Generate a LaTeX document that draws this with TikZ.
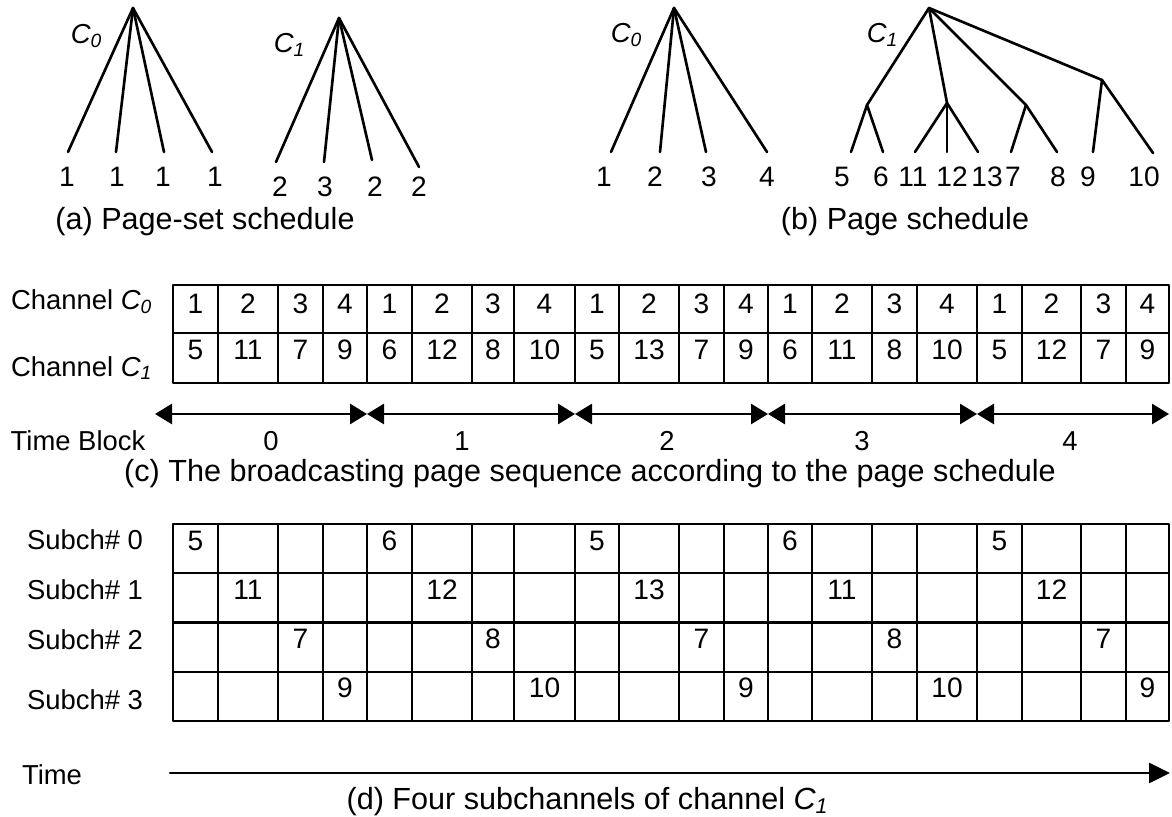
\documentclass[tikz,border=0pt]{standalone}
\usepackage{fontspec}
\setmainfont{Liberation Sans}
\usetikzlibrary{arrows.meta}
\newcommand{\chn}[1]{\textit{C\textsubscript{#1}}}

\begin{document}
\begin{tikzpicture}[
  x=1cm,y=1cm,
  line cap=round,line join=round,
  edge/.style={draw=black, line width=.75pt},
  grid/.style={draw=black, line width=.6pt},
  page/.style={font=\fontsize{8}{9.5}\selectfont, inner sep=0pt},
  lbl/.style={font=\fontsize{7.8}{9}\selectfont, inner sep=0pt},
  capt/.style={font=\fontsize{8.7}{10.4}\selectfont, inner sep=0pt},
  span/.style={draw=black, line width=.8pt,
    {Triangle[length=1.7mm,width=2mm]}-{Triangle[length=1.7mm,width=2mm]}}
]
\useasboundingbox (0,0) rectangle (11.72,8.17);

% (a) page-set schedule, C0 tree
\coordinate (a0) at (1.33,8.09);
\node[lbl] (a0name) at (0.87,7.81) {\chn{0}};
\foreach \x/\lx [count=\i] in {0.68/0.67,1.16/1.17,1.64/1.63,2.12/2.15}{
  \coordinate (a0-\i) at (\x,6.65);
  \draw[edge] (a0) -- (a0-\i);
  \node[page] (la0-\i) at (\lx,6.40) {1};
}

% (a) page-set schedule, C1 tree
\coordinate (a1) at (3.39,7.99);
\node[lbl] (a1name) at (2.90,7.72) {\chn{1}};
\foreach \x/\y/\lx/\t [count=\i] in {2.76/6.55/2.80/2,3.24/6.55/3.25/3,3.72/6.57/3.75/2,4.19/6.50/4.19/2}{
  \coordinate (a1-\i) at (\x,\y);
  \draw[edge] (a1) -- (a1-\i);
  \node[page] (la1-\i) at (\lx,6.30) {\t};
}
\node[capt] (capa) at (2.05,5.95) {(a) Page-set schedule};

% (b) page schedule, C0 tree
\coordinate (b0) at (6.74,8.09);
\node[lbl] (b0name) at (6.27,7.82) {\chn{0}};
\foreach \x/\lx [count=\i] in {6.11/6.04,6.60/6.55,7.06/7.09,7.67/7.67}{
  \coordinate (b0-\i) at (\x,6.65);
  \draw[edge] (b0) -- (b0-\i);
  \node[page] (lb0-\i) at (\lx,6.40) {\i};
}

% (b) page schedule, C1 tree with its page sets
\coordinate (b1) at (9.29,8.09);
\node[lbl] (b1name) at (8.83,7.82) {\chn{1}};
\coordinate (sA) at (8.67,7.12);
\coordinate (sB) at (9.47,7.14);
\coordinate (sC) at (10.26,7.12);
\coordinate (sD) at (11.02,7.37);
\foreach \s in {sA,sB,sC,sD} \draw[edge] (b1) -- (\s);
\foreach \s/\x/\y/\lx/\t in {sA/8.51/6.65/8.42/5,sA/8.83/6.65/8.81/6,
    sB/9.15/6.65/9.13/11,sB/9.47/6.65/9.52/12,sB/9.78/6.65/9.87/13,
    sC/10.11/6.65/10.13/7,sC/10.57/6.65/10.58/8,
    sD/10.93/6.65/10.88/9,sD/11.53/6.64/11.44/10}{
  \coordinate (lf\t) at (\x,\y);
  \draw[edge] (\s) -- (lf\t);
  \node[page] (lb1-\t) at (\lx,6.40) {\t};
}
\node[capt] (capb) at (9.05,5.95) {(b) Page schedule};

% (c) broadcast sequence on both channels
\node[lbl] (ch0) at (0.82,5.15) {Channel \chn{0}};
\node[lbl] (ch1) at (0.82,4.49) {Channel \chn{1}};
\foreach \xa/\xb/\p/\q/\s [count=\i] in {
    1.73/2.18/1/5/0, 2.18/2.78/2/11/1, 2.78/3.23/3/7/2, 3.23/3.67/4/9/3,
    3.67/4.12/1/6/0, 4.12/4.72/2/12/1, 4.72/5.14/3/8/2, 5.14/5.75/4/10/3,
    5.75/6.19/1/5/0, 6.19/6.79/2/13/1, 6.79/7.24/3/7/2, 7.24/7.68/4/9/3,
    7.68/8.12/1/6/0, 8.12/8.72/2/11/1, 8.72/9.17/3/8/2, 9.17/9.77/4/10/3,
    9.77/10.22/1/5/0, 10.22/10.81/2/12/1, 10.81/11.26/3/7/2, 11.26/11.69/4/9/3}{
  \draw[grid] (\xa,5.32) rectangle (\xb,4.84);
  \draw[grid] (\xa,4.84) rectangle (\xb,4.34);
  \node[page] (p0-\i) at ({(\xa+\xb)/2},5.13) {\p};
  \node[page] (p1-\i) at ({(\xa+\xb)/2},4.67) {\q};
  % (d) the same C1 pages spread over four subchannels
  \foreach \k in {0,...,3}
    \draw[grid] (\xa,{2.93-0.4925*\k}) rectangle (\xb,{2.93-0.4925*(\k+1)});
  \node[page] (sp-\i) at ({(\xa+\xb)/2},{2.76-0.49*\s}) {\q};
}

% time blocks
\node[lbl] (tb) at (0.78,3.76) {Time Block};
\foreach \i/\x in {0/1.55,1/3.67,2/5.75,3/7.68,4/9.77,5/11.69}
  \coordinate (t\i) at (\x,4.03);
\foreach \a/\b in {t0/t1,t1/t2,t2/t3,t3/t4,t4/t5} \draw[span] (\a) -- (\b);
\foreach \i/\x in {0/2.71,1/4.62,2/6.67,3/8.62,4/10.70}
  \node[lbl] (blk\i) at (\x,3.76) {\i};
\node[capt] (capc) at (5.90,3.43) {(c) The broadcasting page sequence according to the page schedule};

% (d) subchannel labels and time axis
\foreach \k/\y in {0/2.77,1/2.27,2/1.77,3/1.17}
  \node[lbl] (sub\k) at (0.85,\y) {Subch\# \k};
\node[lbl] (time) at (0.52,0.42) {Time};
\coordinate (ts) at (1.70,0.44);
\coordinate (te) at (11.70,0.44);
\draw[edge,-{Triangle[length=2.1mm,width=2mm]}] (ts) -- (te);
\node[capt] (capd) at (5.88,0.15) {(d) Four subchannels of channel \chn{1}};

\end{tikzpicture}
\end{document}
